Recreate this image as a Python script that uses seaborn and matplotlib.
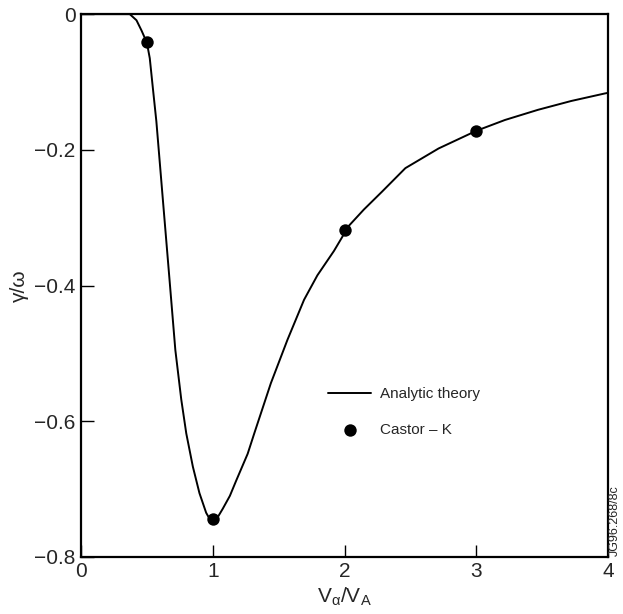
import matplotlib
matplotlib.use("Agg")
import matplotlib.pyplot as plt
import seaborn as sns
import pandas as pd

# Analytic theory curve
curve_x = [0.0, 0.2, 0.370, 0.421, 0.459, 0.500, 0.522, 0.546, 0.572, 0.622, 0.673, 0.716,
           0.761, 0.799, 0.849, 0.899, 0.950, 0.988, 1.030, 1.076, 1.130, 1.177, 1.265, 1.315,
           1.441, 1.567, 1.693, 1.794, 1.920, 2.033, 2.147, 2.283, 2.462, 2.714, 3.000,
           3.218, 3.469, 3.721, 3.974, 4.0]
curve_y = [0.0, 0.0, 0.0, -0.009, -0.024, -0.042, -0.065, -0.110, -0.158, -0.275, -0.394, -0.495,
           -0.568, -0.618, -0.667, -0.706, -0.735, -0.748, -0.744, -0.729, -0.710, -0.688, -0.648, -0.618,
           -0.544, -0.480, -0.421, -0.385, -0.349, -0.312, -0.288, -0.262, -0.227, -0.198, -0.172,
           -0.156, -0.141, -0.128, -0.117, -0.116]

# Castor-K points
pts_x = [0.5, 1.0, 2.0, 3.0]
pts_y = [-0.041, -0.744, -0.318, -0.172]

xticks = [0, 1, 2, 3, 4]
yticks = [0, -0.2, -0.4, -0.6, -0.8]
ytick_labels = ["0", "\u22120.2", "\u22120.4", "\u22120.6", "\u22120.8"]

sns.set_style("ticks")
plt.rcParams["font.family"] = ["Liberation Sans", "DejaVu Sans"]
plt.rcParams["mathtext.fontset"] = "custom"
plt.rcParams["mathtext.rm"] = "Liberation Sans"
plt.rcParams["mathtext.it"] = "Liberation Sans:italic"

fig = plt.figure(figsize=(6.23, 6.14), dpi=100)
ax = fig.add_axes([0.130, 0.093, 0.846, 0.884])

df_c = pd.DataFrame({"x": curve_x, "y": curve_y})
df_p = pd.DataFrame({"x": pts_x, "y": pts_y})

sns.lineplot(data=df_c, x="x", y="y", ax=ax, color="black", linewidth=1.4,
             label="Analytic theory", sort=False)
for ln in ax.lines:
    ln.set_solid_joinstyle("round")
sns.scatterplot(data=df_p, x="x", y="y", ax=ax, color="black", s=80,
                edgecolor="black", linewidth=0, label="Castor \u2013 K", zorder=5)

ax.set_xlim(0, 4)
ax.set_ylim(-0.8, 0)
ax.set_xticks(xticks)
ax.set_xticklabels([str(t) for t in xticks])
ax.set_yticks(yticks)
ax.set_yticklabels(ytick_labels)
ax.tick_params(direction="in", length=9, width=1.0, labelsize=15, pad=4, color="black")

for sp in ax.spines.values():
    sp.set_visible(True)
    sp.set_linewidth(1.6)
    sp.set_color("black")

ax.set_xlabel("V$_{\\mathregular{\u03b1}}$/V$_{\\mathregular{A}}$", fontsize=15, labelpad=3)
ax.set_ylabel("\u03b3/\u03c9", fontsize=15, labelpad=4)

leg = ax.legend(loc="upper left", bbox_to_anchor=(0.443, 0.338), frameon=False,
                fontsize=11, handlelength=2.8, labelspacing=1.4, handletextpad=0.6)

fig.text(0.987, 0.094, "JG96.268/8c", rotation=90, fontsize=9, ha="center", va="bottom")

fig.savefig("out.png", dpi=100)
